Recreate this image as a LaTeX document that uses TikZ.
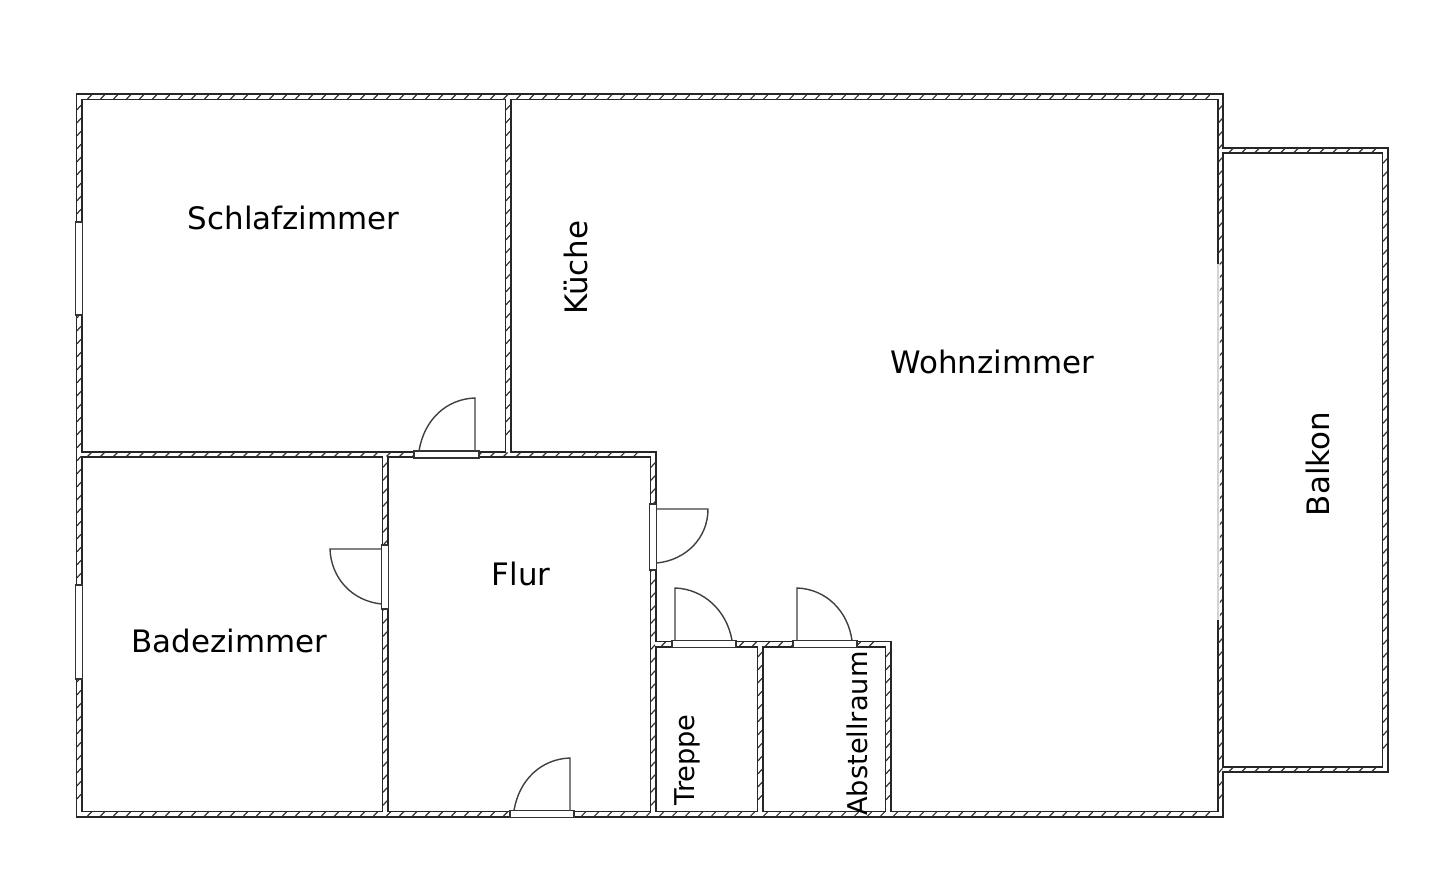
\documentclass[tikz,border=0pt]{standalone}
\usepackage{fontspec}
\setmainfont{DejaVu Sans}
\usetikzlibrary{decorations.markings}
\tikzset{
    wallout/.style={line width=0.14cm, black!85, line cap=rect},
    wallin/.style={line width=0.072cm, white, line cap=rect},
    hatchh/.style={decoration={markings, mark=between positions 6pt and -6pt step 7.4pt with {
        \draw[black!80, line width=0.024cm] (-0.04cm, -0.04cm) -- (0.04cm, 0.04cm);}}, decorate},
    hatchv/.style={decoration={markings, mark=between positions 6pt and -6pt step 7.4pt with {
        \draw[black!80, line width=0.024cm] (0.045cm, -0.04cm) -- (-0.045cm, 0.04cm);}}, decorate},
    opening/.style={draw=black!80, line width=0.024cm, fill=white},
    leaf/.style={draw=black!75, line width=0.028cm},
    roomlabel/.style={font=\fontsize{17.6}{20}\selectfont, text=black, inner sep=0pt},
    smalllabel/.style={font=\fontsize{15.5}{18}\selectfont, text=black, inner sep=0pt, rotate=90},
}
\begin{document}
\begin{tikzpicture}[x=0.02cm, y=-0.02cm]
    \useasboundingbox (0, 0) rectangle (1440, 891);
    \fill[white] (0, 0) rectangle (1440, 891);

    % wall centre lines
    \coordinate (TL) at (79, 97);
    \coordinate (TM) at (508, 97);
    \coordinate (TR) at (1220.5, 97);
    \coordinate (BL) at (79, 814);
    \coordinate (BR) at (1220.5, 814);
    \coordinate (ML) at (79, 454.5);
    \coordinate (MM) at (508, 454.5);
    \coordinate (MF) at (385, 454.5);
    \coordinate (MR) at (653, 454.5);
    \coordinate (BF) at (385, 814);
    \coordinate (BD) at (653, 814);
    \coordinate (SL) at (653, 644);
    \coordinate (SM) at (760, 644);
    \coordinate (SR) at (888, 644);
    \coordinate (BM) at (760, 814);
    \coordinate (BS) at (888, 814);
    \coordinate (P1) at (1220.5, 150.5);
    \coordinate (P2) at (1385, 150.5);
    \coordinate (P3) at (1385, 769.5);
    \coordinate (P4) at (1220.5, 769.5);

    \foreach \a/\b in {TL/TR, TR/BR, BL/BR, TL/BL, TM/MM, ML/MR, MR/BD, MF/BF, SL/SR, SR/BS, SM/BM, P1/P2, P2/P3, P4/P3}
        \draw[wallout] (\a) -- (\b);
    \foreach \a/\b in {TL/TR, TR/BR, BL/BR, TL/BL, TM/MM, ML/MR, MR/BD, MF/BF, SL/SR, SR/BS, SM/BM, P1/P2, P2/P3, P4/P3}
        \draw[wallin] (\a) -- (\b);
    \foreach \a/\b in {TL/TR, BL/BR, ML/MR, SL/SR, P1/P2, P4/P3}
        \path[hatchh] (\a) -- (\b);
    \foreach \a/\b in {TR/BR, TL/BL, TM/MM, MR/BD, MF/BF, SR/BS, SM/BM, P2/P3}
        \path[hatchv] (\a) -- (\b);

    % doors
    \draw[opening] (414, 451) rectangle (479, 458);
    \draw[opening] (649.5, 504) rectangle (656.5, 570);
    \draw[opening] (672, 640.5) rectangle (736, 647.5);
    \draw[opening] (793, 640.5) rectangle (857, 647.5);
    \draw[opening] (381.5, 545) rectangle (388.5, 609);
    \draw[opening] (510, 810.5) rectangle (574, 817.5);

    \draw[leaf] (419, 451) .. controls (424, 420) and (446, 399) .. (475, 398) -- (475, 451);
    \draw[leaf] (657, 509) -- (708, 509) .. controls (708, 538) and (686, 560) .. (657, 563);
    \draw[leaf] (675, 640.5) -- (675, 588) .. controls (704, 589) and (727, 611) .. (732, 640.5);
    \draw[leaf] (797, 640.5) -- (797, 588) .. controls (826, 589) and (848, 611) .. (852, 640.5);
    \draw[leaf] (381.5, 549) -- (330, 549) .. controls (331, 578) and (352, 601) .. (381.5, 604);
    \draw[leaf] (514, 810.5) .. controls (519, 780) and (541, 759) .. (570, 758) -- (570, 810.5);

    % windows
    \draw[opening] (75.8, 585) rectangle (82.2, 679);
    \draw[opening] (75.8, 222) rectangle (82.2, 315);
    \fill[white, opacity=0.8] (1215.5, 264) rectangle (1219.5, 620);

    % labels
    \node[roomlabel] (schlaf) at (293.5, 218) {Schlafzimmer};
    \node[roomlabel, rotate=90] (kueche) at (576, 267.5) {Küche};
    \node[roomlabel] (wohn) at (992.5, 362) {Wohnzimmer};
    \node[roomlabel, rotate=90] (balkon) at (1318, 464) {Balkon};
    \node[roomlabel] (flur) at (521, 574) {Flur};
    \node[roomlabel] (bad) at (229.5, 641) {Badezimmer};
    \node[smalllabel] (treppe) at (687, 760) {Treppe};
    \node[smalllabel] (abstell) at (857.5, 733.5) {Abstellraum};
\end{tikzpicture}
\end{document}
